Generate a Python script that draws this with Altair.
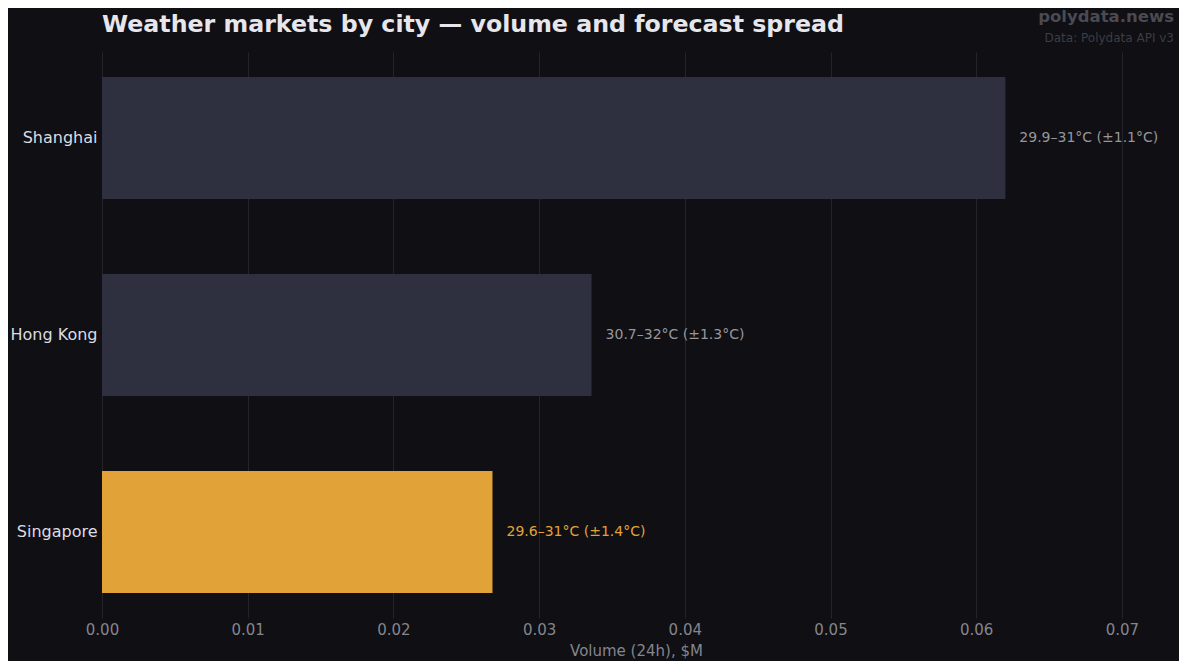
import altair as alt
import pandas as pd

cities = ["Shanghai", "Hong Kong", "Singapore"]
volume = [0.0620, 0.0336, 0.0268]
spread = ["29.9–31°C (±1.1°C)", "30.7–32°C (±1.3°C)", "29.6–31°C (±1.4°C)"]
highlight = ["no", "no", "yes"]

df = pd.DataFrame({"city": cities, "volume": volume, "spread": spread, "hl": highlight})

FONT = "DejaVu Sans"
BG = "#0f0f14"

y_enc = alt.Y("city:N", sort=cities, title=None,
              scale=alt.Scale(paddingInner=0.381, paddingOuter=0.127))
x_enc = alt.X("volume:Q", title="Volume (24h), $M",
              scale=alt.Scale(domain=[0, 0.0733], nice=False, zero=True),
              axis=alt.Axis(values=[0, 0.01, 0.02, 0.03, 0.04, 0.05, 0.06, 0.07],
                            format=".2f", labelFlush=False))

base = alt.Chart(df)

bars = base.mark_bar(cornerRadius=0).encode(
    x=x_enc, y=y_enc,
    color=alt.Color("hl:N", scale=alt.Scale(domain=["no", "yes"],
                                            range=["#2e3040", "#e1a337"]),
                    legend=None),
)

labels = base.mark_text(align="left", baseline="middle", dx=14, font=FONT, fontSize=14).encode(
    x="volume:Q", y=alt.Y("city:N", sort=cities),
    text="spread:N",
    color=alt.Color("hl:N", scale=alt.Scale(domain=["no", "yes"],
                                            range=["#96969c", "#e1a337"]),
                    legend=None),
)

# title and watermark, placed relative to the plot's top-left corner
title = alt.Chart(pd.DataFrame({"t": ["Weather markets by city — volume and forecast spread"]})).mark_text(
    align="left", baseline="alphabetic", font=FONT, fontSize=23.7, fontWeight="bold",
    color="#e6e6ec").encode(text="t:N", x=alt.value(0), y=alt.value(-20))

brand = alt.Chart(pd.DataFrame({"t": ["polydata.news"]})).mark_text(
    align="right", baseline="middle", font=FONT, fontSize=16.5, fontWeight="bold",
    color="#4a4a52").encode(text="t:N", x=alt.value(1072), y=alt.value(-35))

source = alt.Chart(pd.DataFrame({"t": ["Data: Polydata API v3"]})).mark_text(
    align="right", baseline="middle", font=FONT, fontSize=12,
    color="#3d3d46").encode(text="t:N", x=alt.value(1072), y=alt.value(-14))

chart = alt.layer(bars, labels, title, brand, source).resolve_scale(color="independent").properties(
    width=1068, height=566,
    autosize=alt.AutoSizeParams(type="none"),
    padding={"left": 94, "top": 44, "right": 9, "bottom": 43},
    background=BG,
).configure_view(stroke=None).configure_axisX(
    grid=True, gridColor="#24242c", gridWidth=1, domain=False, ticks=False,
    labelFont=FONT, labelFontSize=15, labelColor="#85858d", labelPadding=4,
    titleFont=FONT, titleFontSize=15, titleColor="#85858d", titleFontWeight="normal",
    titlePadding=6,
).configure_axisY(
    grid=False, domain=False, ticks=False, labelFont=FONT, labelFontSize=16,
    labelColor="#dcdce2", labelPadding=5,
)

chart.save("out.html", embed_options={"renderer": "svg", "actions": False})
